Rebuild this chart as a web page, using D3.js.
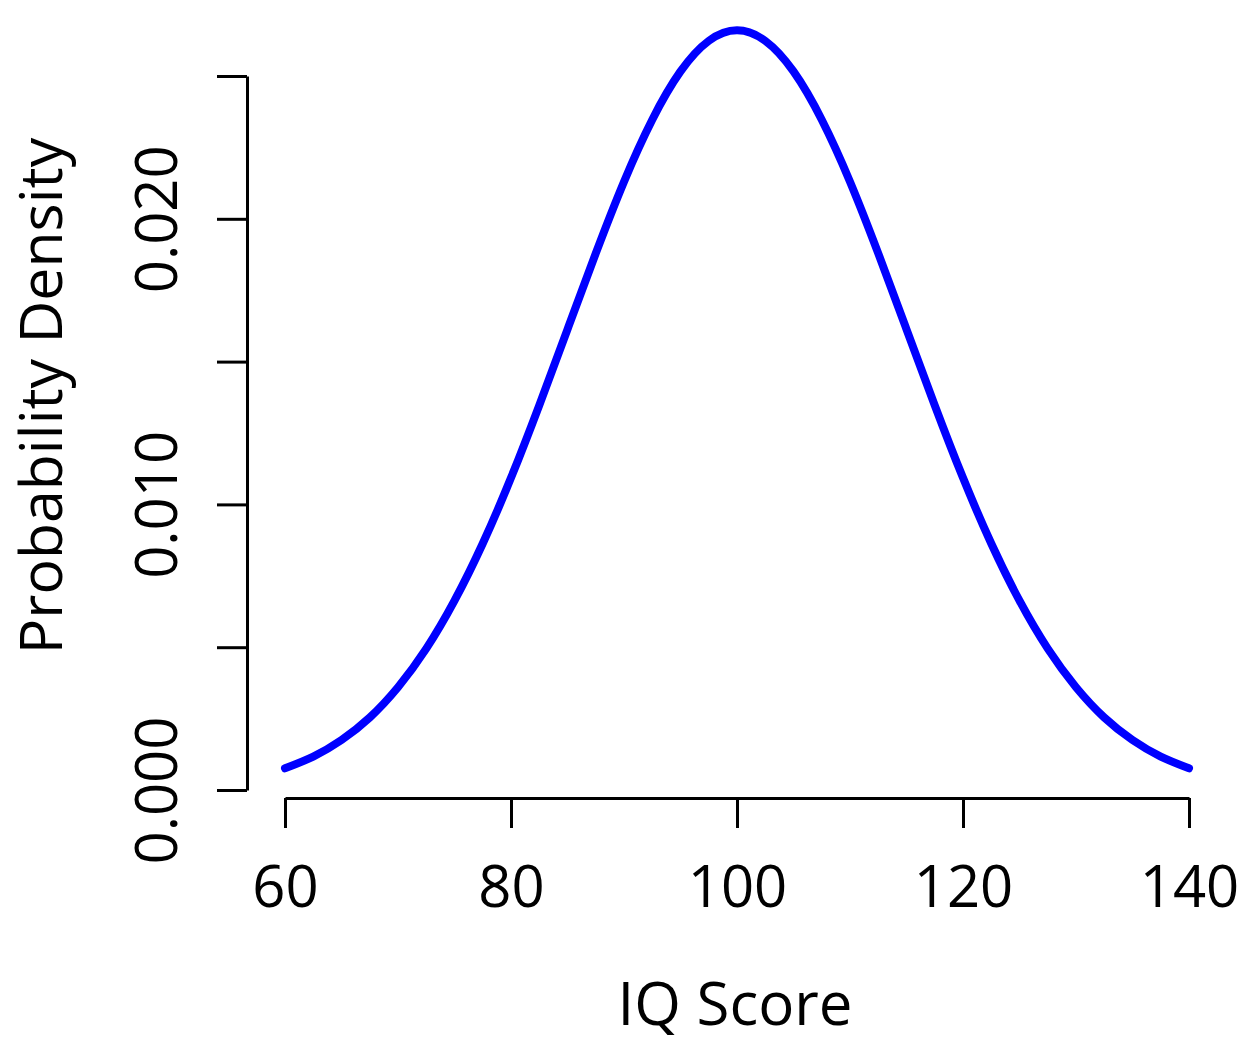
<!DOCTYPE html>
<html>
<head>
<meta charset="utf-8">
<script src="https://cdn.jsdelivr.net/npm/d3@7"></script>
<style>
  body { margin: 0; background: #fff; }
  text { font-family: "Open Sans", "Noto Sans", sans-serif; fill: #000; }
</style>
</head>
<body>
<div id="chart"></div>
<script>
// IQ score values and density
const iqScores = [60, 62.5, 65, 67.5, 70, 72.5, 75, 77.5, 80, 82.5, 85, 87.5, 90, 92.5, 95, 97.5, 100,
  102.5, 105, 107.5, 110, 112.5, 115, 117.5, 120, 122.5, 125, 127.5, 130, 132.5, 135, 137.5, 140];
const densities = [0.00076, 0.00117, 0.00175, 0.00254, 0.00360, 0.00495, 0.00663, 0.00863, 0.01093,
  0.01347, 0.01613, 0.01879, 0.02130, 0.02347, 0.02516, 0.02623, 0.02660,
  0.02623, 0.02516, 0.02347, 0.02130, 0.01879, 0.01613, 0.01347, 0.01093,
  0.00863, 0.00663, 0.00495, 0.00360, 0.00254, 0.00175, 0.00117, 0.00076];
const xTicks = [60, 80, 100, 120, 140];
const yTicks = [0, 0.005, 0.010, 0.015, 0.020, 0.025];
const yLabels = ["0.000", "", "0.010", "", "0.020", ""];

const width = 1243, height = 1044;

const svg = d3.select("#chart")
  .append("svg")
  .attr("width", width)
  .attr("height", height);

// Scales
const x = d3.scaleLinear().domain([60, 140]).range([285, 1189]);
const y = d3.scaleLinear().domain([0, 0.025]).range([790, 76]);

// Curve
const points = iqScores.map((v, i) => [v, densities[i]]);
svg.append("path")
  .datum(points)
  .attr("fill", "none")
  .attr("stroke", "#0000ff")
  .attr("stroke-width", 8)
  .attr("stroke-linecap", "round")
  .attr("d", d3.line().x(d => x(d[0])).y(d => y(d[1])).curve(d3.curveNatural));

// X axis (R style, detached)
const xAxis = svg.append("g")
  .attr("transform", "translate(0,798)")
  .call(d3.axisBottom(x).tickValues(xTicks).tickSize(30).tickSizeOuter(0).tickPadding(38));
xAxis.select(".domain").attr("stroke-width", 3);
xAxis.selectAll(".tick line").attr("stroke-width", 3);
xAxis.selectAll(".tick text")
  .attr("font-size", 58)
  .attr("font-family", null);

// Y axis
const yAxis = svg.append("g")
  .attr("transform", "translate(247,0)")
  .call(d3.axisLeft(y).tickValues(yTicks).tickSize(30).tickSizeOuter(0)
    .tickFormat((d, i) => yLabels[i]));
yAxis.select(".domain").attr("stroke-width", 3);
yAxis.selectAll(".tick line").attr("stroke-width", 3);
yAxis.selectAll(".tick text")
  .attr("font-size", 58)
  .attr("font-family", null)
  .attr("text-anchor", "middle")
  .attr("dy", null)
  .attr("x", null)
  .attr("transform", "translate(-70,0) rotate(-90)");

// Axis titles
svg.append("text")
  .attr("x", 735)
  .attr("y", 1025)
  .attr("text-anchor", "middle")
  .attr("font-size", 60)
  .text("IQ Score");

svg.append("text")
  .attr("transform", "translate(62,396) rotate(-90)")
  .attr("text-anchor", "middle")
  .attr("font-size", 59)
  .text("Probability Density");
</script>
</body>
</html>
